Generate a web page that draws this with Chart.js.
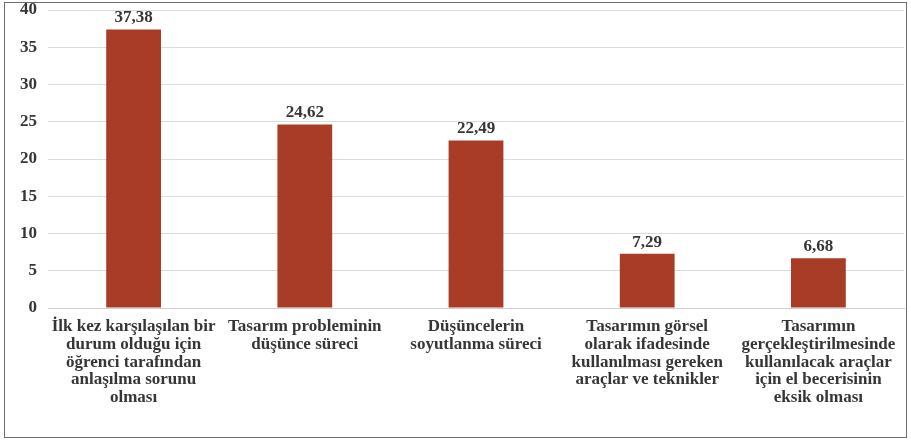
<!DOCTYPE html>
<html>
<head>
<meta charset="utf-8">
<script src="https://cdn.jsdelivr.net/npm/chart.js@4/dist/chart.umd.min.js"></script>
<style>
  html, body { margin: 0; padding: 0; background: #fff; }
  #frame {
    position: absolute;
    left: 4px;
    top: 2px;
    width: 901px;
    height: 434px;
    border: 1.5px solid #6f6f6f;
    background: #fff;
  }
  #frame canvas { display: block; }
</style>
</head>
<body>
<div id="frame"><canvas id="chart"></canvas></div>
<script>
// Categories (multi-line labels) and their percentages
const CATEGORIES = [
  ["İlk kez karşılaşılan bir", "durum olduğu için", "öğrenci tarafından", "anlaşılma sorunu", "olması"],
  ["Tasarım probleminin", "düşünce süreci"],
  ["Düşüncelerin", "soyutlanma süreci"],
  ["Tasarımın görsel", "olarak ifadesinde", "kullanılması gereken", "araçlar ve teknikler"],
  ["Tasarımın", "gerçekleştirilmesinde", "kullanılacak araçlar", "için el becerisinin", "eksik olması"],
];
const VALUES = [37.38, 24.62, 22.49, 7.29, 6.68];
const Y_MIN = 0;
const Y_MAX = 40;
const Y_STEP = 5;

const BAR_COLOR = "#a83c27";
const INK = "#363636";
const SERIF = "'Liberation Serif', 'Times New Roman', serif";

/** Value written above each bar with a comma decimal separator. */
const barValueLabels = {
  id: "barValueLabels",
  afterDatasetsDraw(chart) {
    const { ctx } = chart;
    const meta = chart.getDatasetMeta(0);
    const values = chart.data.datasets[0].data;
    ctx.save();
    ctx.textAlign = "center";
    ctx.textBaseline = "bottom";
    ctx.font = `bold 17px ${SERIF}`;
    ctx.fillStyle = INK;
    meta.data.forEach((bar, i) => {
      const { x, y } = bar.getProps(["x", "y"], true);
      ctx.fillText(values[i].toFixed(2).replace(".", ","), x, y - 3);
    });
    ctx.restore();
  },
};

new Chart(document.getElementById("chart"), {
  type: "bar",
  data: {
    labels: CATEGORIES,
    datasets: [
      {
        data: VALUES,
        backgroundColor: BAR_COLOR,
        borderWidth: 0,
        barPercentage: 0.32,
        categoryPercentage: 1,
      },
    ],
  },
  options: {
    responsive: true,
    maintainAspectRatio: false,
    animation: false,
    layout: { padding: { top: 0, right: 2, left: 0, bottom: 0 } },
    plugins: {
      legend: { display: false },
      tooltip: { enabled: false },
    },
    scales: {
      x: {
        grid: { display: false, drawTicks: false },
        border: { display: true, color: "#d0d0d0", width: 1 },
        ticks: {
          color: INK,
          font: { family: SERIF, size: 17, weight: "bold", lineHeight: 1.04 },
          padding: 10,
          maxRotation: 0,
          autoSkip: false,
        },
        afterFit(scale) { scale.height = 129; },
      },
      y: {
        min: Y_MIN,
        max: Y_MAX,
        grid: { color: "#dcdcdc", lineWidth: 1, drawTicks: false },
        border: { display: false },
        ticks: {
          stepSize: Y_STEP,
          color: INK,
          font: { family: SERIF, size: 17, weight: "bold" },
          padding: 11,
        },
        afterFit(scale) {
          scale.width = 43;
          scale.paddingTop = 7;
        },
      },
    },
  },
  plugins: [barValueLabels],
});
</script>
</body>
</html>
